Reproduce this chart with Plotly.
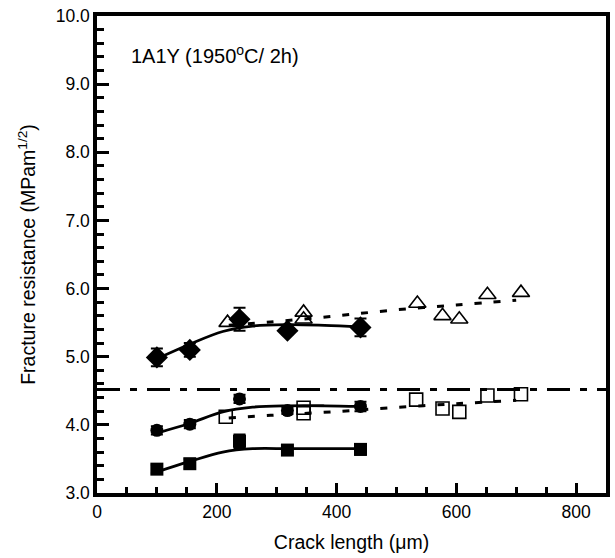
import plotly.graph_objects as go

# ---- data ----
x_filled = [100, 155, 238, 318, 440]
sq_y = [3.35, 3.43, 3.76, 3.63, 3.64]
sq_err = [0.06, 0.07, 0.10, 0.05, 0.08]
ci_y = [3.92, 4.01, 4.38, 4.21, 4.27]
ci_err = [0.06, 0.06, 0.06, 0.05, 0.07]
di_y = [4.99, 5.10, 5.55, 5.38, 5.43]
di_err = [0.13, 0.10, 0.17, 0.05, 0.13]

x_open = [218, 345, 345, 535, 577, 605, 652, 708]
tri_y = [5.50, 5.65, 5.55, 5.78, 5.60, 5.55, 5.91, 5.94]
x_open_sq = [215, 345, 345, 533, 577, 605, 652, 708]
osq_y = [4.12, 4.25, 4.17, 4.37, 4.24, 4.19, 4.43, 4.45]

# fitted curves
fit_x = [100, 154, 210, 260, 320, 380, 440]
fit_sq = [3.31, 3.46, 3.60, 3.65, 3.65, 3.65, 3.65]
fit_ci = [3.88, 4.02, 4.19, 4.26, 4.28, 4.28, 4.27]
fit_di = [4.97, 5.18, 5.37, 5.45, 5.47, 5.46, 5.44]

dfit_x = [220, 290, 390, 490, 600, 700]
dfit_tri = [5.46, 5.51, 5.59, 5.68, 5.76, 5.83]
dfit_sq = [4.10, 4.14, 4.19, 4.25, 4.31, 4.36]

ref_level = 4.52
x_range = [0, 850]
y_range = [3, 10]

FONT = "Liberation Sans, Arial, sans-serif"

fig = go.Figure()

# reference dash-dot line
fig.add_trace(go.Scatter(x=x_range, y=[ref_level, ref_level], mode="lines",
                         line=dict(color="black", width=3, dash="23px,10px,7px,10px"),
                         hoverinfo="skip"))

# dashed fits
for yy in (dfit_tri, dfit_sq):
    fig.add_trace(go.Scatter(x=dfit_x, y=yy, mode="lines",
                             line=dict(color="black", width=3, dash="7px,12px", shape="spline")))

# solid fits
for yy in (fit_sq, fit_ci, fit_di):
    fig.add_trace(go.Scatter(x=fit_x, y=yy, mode="lines",
                             line=dict(color="black", width=2.8, shape="spline")))

# open markers
fig.add_trace(go.Scatter(x=x_open, y=tri_y, mode="markers",
                         marker=dict(symbol="triangle-up-open", size=15, color="black",
                                     line=dict(width=1.6, color="black"))))
fig.add_trace(go.Scatter(x=x_open_sq, y=osq_y, mode="markers",
                         marker=dict(symbol="square-open", size=13, color="black",
                                     line=dict(width=1.6, color="black"))))

# filled markers with error bars
for yy, ee, sym, sz in ((sq_y, sq_err, "square", 13),
                        (ci_y, ci_err, "circle", 13),
                        (di_y, di_err, "diamond", 17)):
    fig.add_trace(go.Scatter(x=x_filled, y=yy, mode="markers",
                             marker=dict(symbol=sym, size=sz, color="black"),
                             error_y=dict(type="data", array=ee, visible=True,
                                          color="black", thickness=2, width=6)))

fig.add_annotation(x=0.062, y=0.92, xref="paper", yref="paper",
                   text="1A1Y (1950<sup>o</sup>C/ 2h)", showarrow=False,
                   xanchor="left", yanchor="middle",
                   font=dict(family=FONT, size=20, color="black"))

axis_common = dict(showline=True, linecolor="black", linewidth=3.5, mirror=True,
                   ticks="inside", tickcolor="black", tickwidth=3,
                   showgrid=False, zeroline=False,
                   tickfont=dict(family=FONT, size=17.5, color="black"))

fig.update_xaxes(range=x_range, dtick=200, tick0=0, ticklen=10,
                 minor=dict(dtick=50, ticks="inside", ticklen=6, tickcolor="black", tickwidth=3),
                 title=dict(text="Crack length (\u03bcm)", font=dict(family=FONT, size=19.5, color="black"),
                            standoff=16),
                 **axis_common)
fig.update_yaxes(range=y_range, dtick=1, tick0=3, tickformat=".1f", ticklen=12,
                 minor=dict(dtick=0.2, ticks="inside", ticklen=7, tickcolor="black", tickwidth=3),
                 title=dict(text="Fracture resistance (MPam<sup>1/2</sup>)",
                            font=dict(family=FONT, size=19.5, color="black"), standoff=16),
                 **axis_common)

fig.update_layout(width=615, height=558, showlegend=False,
                  plot_bgcolor="white", paper_bgcolor="white",
                  margin=dict(l=97, r=5, t=16, b=65),
                  font=dict(family=FONT, color="black"))

fig.write_html("out.html")
